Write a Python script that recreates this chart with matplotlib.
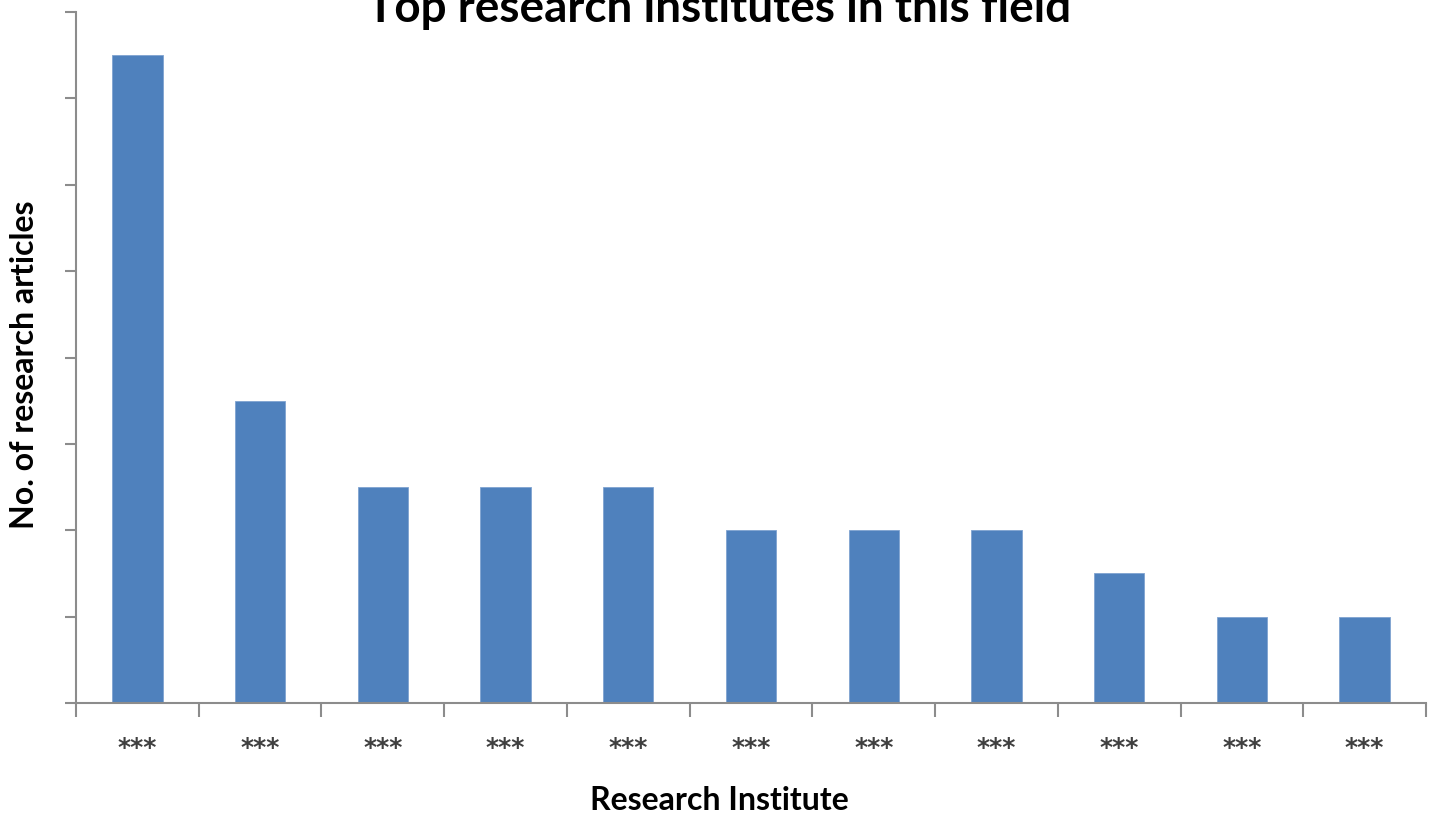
import matplotlib
matplotlib.use("Agg")
import matplotlib.pyplot as plt
import numpy as np

categories = ["***"] * 11
values = [15, 7, 5, 5, 5, 4, 4, 4, 3, 2, 2]
y_ticks = [0, 2, 4, 6, 8, 10, 12, 14, 16]

title = "Top research institutes in this field"
xlabel = "Research Institute"
ylabel = "No. of research articles"

W, H = 1438, 817
fig = plt.figure(figsize=(W / 100, H / 100), dpi=100)
ax = fig.add_axes([76 / W, 1 - 703 / H, (1426 - 76) / W, (703 - 12) / H])

x = np.arange(len(values))
ax.bar(x, values, width=0.41, color="#4F81BD", edgecolor="#7FA3D0", linewidth=0.6, zorder=2)

ax.set_xlim(-0.5, len(values) - 0.5)
ax.set_ylim(0, 16)

axis_color = "#8C8C8C"
for s in ["top", "right"]:
    ax.spines[s].set_visible(False)
for s in ["left", "bottom"]:
    ax.spines[s].set_color(axis_color)
    ax.spines[s].set_linewidth(1.5)

ax.set_yticks(y_ticks)
ax.set_yticklabels([])
ax.tick_params(axis="y", length=8, width=1.5, color=axis_color, direction="out")

ax.set_xticks(x)
ax.set_xticklabels(categories, fontfamily="DejaVu Sans", fontweight="bold", fontsize=18, color="#404040")
ax.set_xticks(np.arange(-0.5, len(values), 1.0), minor=True)
ax.tick_params(axis="x", which="major", length=0, pad=24)
ax.tick_params(axis="x", which="minor", length=10, width=1.5, color=axis_color, direction="out")

fig.text(0.5, 1 - 800 / H, xlabel, ha="center", va="center",
         fontfamily="Lato", fontweight="bold", fontsize=23)
fig.text(25 / W, 1 - 365 / H, ylabel, ha="center", va="center", rotation=90,
         fontfamily="Lato", fontweight="bold", fontsize=23)
fig.text(0.5, 1 - 22 / H, title, ha="center", va="baseline",
         fontfamily="Lato", fontweight="bold", fontsize=33)

fig.savefig("out.png", dpi=100)
